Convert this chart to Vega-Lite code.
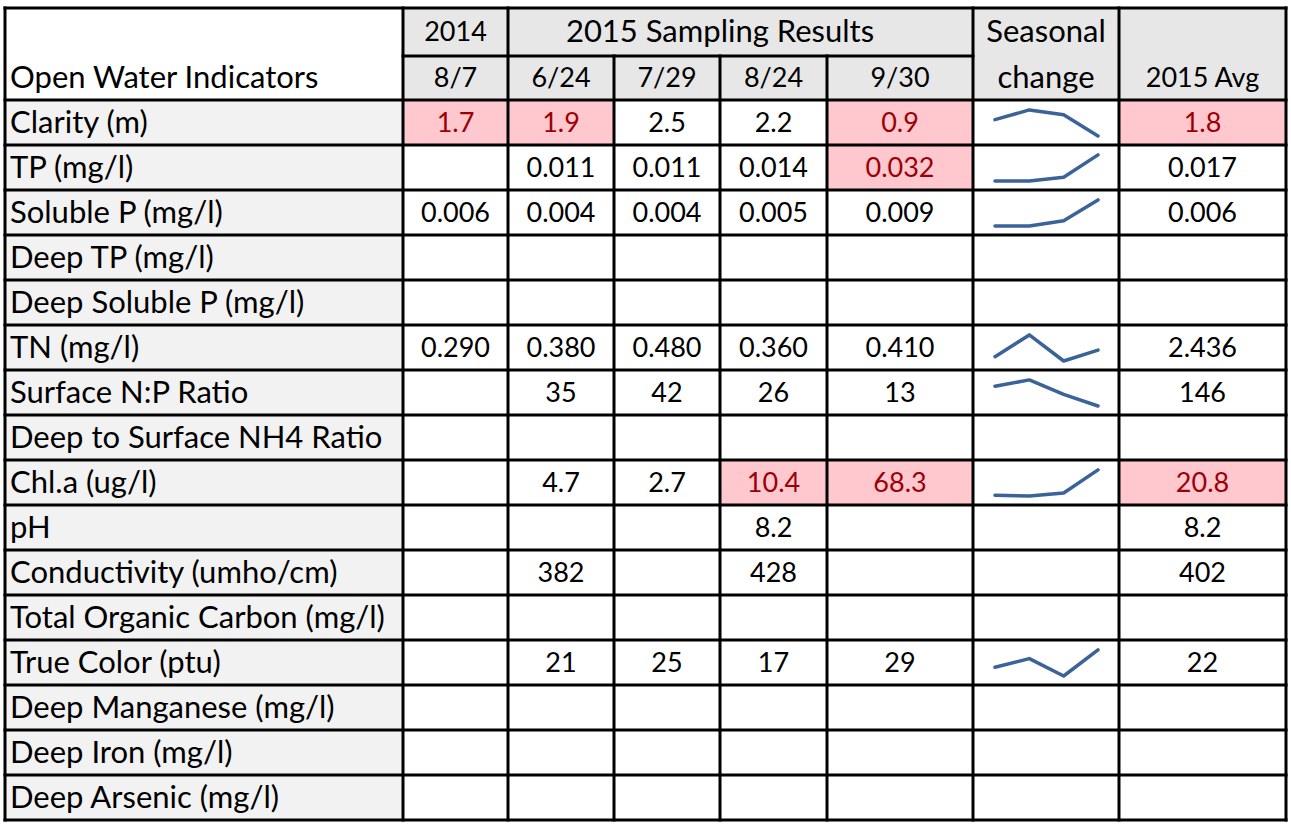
{
  "$schema": "https://vega.github.io/schema/vega-lite/v6.json",
  "width": 1281,
  "height": 812,
  "autosize": {"type": "none"},
  "padding": {"left": 5, "top": 8, "right": 5, "bottom": 5},
  "background": "white",
  "config": {"view": {"stroke": null}, "text": {"font": "Lato", "fontSize": 27, "color": "black", "baseline": "middle"}},
  "datasets": {
    "cols": [
      {"col": "label", "c0": 0, "c1": 1, "cm": 0.5, "top": 0},
      {"col": "2014", "c0": 1, "c1": 2, "cm": 1.5, "top": 0},
      {"col": "6/24", "c0": 2, "c1": 3, "cm": 2.5, "top": 1},
      {"col": "7/29", "c0": 3, "c1": 4, "cm": 3.5, "top": 1},
      {"col": "8/24", "c0": 4, "c1": 5, "cm": 4.5, "top": 1},
      {"col": "9/30", "c0": 5, "c1": 6, "cm": 5.5, "top": 0},
      {"col": "season", "c0": 6, "c1": 7, "cm": 6.5, "top": 0},
      {"col": "avg", "c0": 7, "c1": 8, "cm": 7.5, "top": 0}
    ],
    "rows": [
      {"ind": "Clarity (m)", "r0": 2, "r1": 3, "rm": 2.5},
      {"ind": "TP (mg/l)", "r0": 3, "r1": 4, "rm": 3.5},
      {"ind": "Soluble P (mg/l)", "r0": 4, "r1": 5, "rm": 4.5},
      {"ind": "Deep TP (mg/l)", "r0": 5, "r1": 6, "rm": 5.5},
      {"ind": "Deep Soluble P (mg/l)", "r0": 6, "r1": 7, "rm": 6.5},
      {"ind": "TN (mg/l)", "r0": 7, "r1": 8, "rm": 7.5},
      {"ind": "Surface N:P Ratio", "r0": 8, "r1": 9, "rm": 8.5},
      {"ind": "Deep to Surface NH4 Ratio", "r0": 9, "r1": 10, "rm": 9.5},
      {"ind": "Chl.a (ug/l)", "r0": 10, "r1": 11, "rm": 10.5},
      {"ind": "pH", "r0": 11, "r1": 12, "rm": 11.5},
      {"ind": "Conductivity (umho/cm)", "r0": 12, "r1": 13, "rm": 12.5},
      {"ind": "Total Organic Carbon (mg/l)", "r0": 13, "r1": 14, "rm": 13.5},
      {"ind": "True Color (ptu)", "r0": 14, "r1": 15, "rm": 14.5},
      {"ind": "Deep Manganese (mg/l)", "r0": 15, "r1": 16, "rm": 15.5},
      {"ind": "Deep Iron (mg/l)", "r0": 16, "r1": 17, "rm": 16.5},
      {"ind": "Deep Arsenic (mg/l)", "r0": 17, "r1": 18, "rm": 17.5}
    ],
    "headWords": [
      {"t": "2015 Sampling Results", "x": 4, "y": 0.5},
      {"t": "Seasonal", "x": 6.5, "y": 0.5},
      {"t": "change", "x": 6.5, "y": 1.5}
    ],
    "headNums": [
      {"t": "2014", "x": 1.5, "y": 0.5},
      {"t": "8/7", "x": 1.5, "y": 1.5},
      {"t": "6/24", "x": 2.5, "y": 1.5},
      {"t": "7/29", "x": 3.5, "y": 1.5},
      {"t": "8/24", "x": 4.5, "y": 1.5},
      {"t": "9/30", "x": 5.5, "y": 1.5},
      {"t": "2015 Avg", "x": 7.5, "y": 1.5}
    ],
    "cells": [
      {"ind": "Clarity (m)", "col": "2014", "v": "1.7", "hl": true},
      {"ind": "Clarity (m)", "col": "6/24", "v": "1.9", "hl": true},
      {"ind": "Clarity (m)", "col": "7/29", "v": "2.5", "hl": false},
      {"ind": "Clarity (m)", "col": "8/24", "v": "2.2", "hl": false},
      {"ind": "Clarity (m)", "col": "9/30", "v": "0.9", "hl": true},
      {"ind": "Clarity (m)", "col": "avg", "v": "1.8", "hl": true},
      {"ind": "TP (mg/l)", "col": "6/24", "v": "0.011", "hl": false},
      {"ind": "TP (mg/l)", "col": "7/29", "v": "0.011", "hl": false},
      {"ind": "TP (mg/l)", "col": "8/24", "v": "0.014", "hl": false},
      {"ind": "TP (mg/l)", "col": "9/30", "v": "0.032", "hl": true},
      {"ind": "TP (mg/l)", "col": "avg", "v": "0.017", "hl": false},
      {"ind": "Soluble P (mg/l)", "col": "2014", "v": "0.006", "hl": false},
      {"ind": "Soluble P (mg/l)", "col": "6/24", "v": "0.004", "hl": false},
      {"ind": "Soluble P (mg/l)", "col": "7/29", "v": "0.004", "hl": false},
      {"ind": "Soluble P (mg/l)", "col": "8/24", "v": "0.005", "hl": false},
      {"ind": "Soluble P (mg/l)", "col": "9/30", "v": "0.009", "hl": false},
      {"ind": "Soluble P (mg/l)", "col": "avg", "v": "0.006", "hl": false},
      {"ind": "TN (mg/l)", "col": "2014", "v": "0.290", "hl": false},
      {"ind": "TN (mg/l)", "col": "6/24", "v": "0.380", "hl": false},
      {"ind": "TN (mg/l)", "col": "7/29", "v": "0.480", "hl": false},
      {"ind": "TN (mg/l)", "col": "8/24", "v": "0.360", "hl": false},
      {"ind": "TN (mg/l)", "col": "9/30", "v": "0.410", "hl": false},
      {"ind": "TN (mg/l)", "col": "avg", "v": "2.436", "hl": false},
      {"ind": "Surface N:P Ratio", "col": "6/24", "v": "35", "hl": false},
      {"ind": "Surface N:P Ratio", "col": "7/29", "v": "42", "hl": false},
      {"ind": "Surface N:P Ratio", "col": "8/24", "v": "26", "hl": false},
      {"ind": "Surface N:P Ratio", "col": "9/30", "v": "13", "hl": false},
      {"ind": "Surface N:P Ratio", "col": "avg", "v": "146", "hl": false},
      {"ind": "Chl.a (ug/l)", "col": "6/24", "v": "4.7", "hl": false},
      {"ind": "Chl.a (ug/l)", "col": "7/29", "v": "2.7", "hl": false},
      {"ind": "Chl.a (ug/l)", "col": "8/24", "v": "10.4", "hl": true},
      {"ind": "Chl.a (ug/l)", "col": "9/30", "v": "68.3", "hl": true},
      {"ind": "Chl.a (ug/l)", "col": "avg", "v": "20.8", "hl": true},
      {"ind": "pH", "col": "8/24", "v": "8.2", "hl": false},
      {"ind": "pH", "col": "avg", "v": "8.2", "hl": false},
      {"ind": "Conductivity (umho/cm)", "col": "6/24", "v": "382", "hl": false},
      {"ind": "Conductivity (umho/cm)", "col": "8/24", "v": "428", "hl": false},
      {"ind": "Conductivity (umho/cm)", "col": "avg", "v": "402", "hl": false},
      {"ind": "True Color (ptu)", "col": "6/24", "v": "21", "hl": false},
      {"ind": "True Color (ptu)", "col": "7/29", "v": "25", "hl": false},
      {"ind": "True Color (ptu)", "col": "8/24", "v": "17", "hl": false},
      {"ind": "True Color (ptu)", "col": "9/30", "v": "29", "hl": false},
      {"ind": "True Color (ptu)", "col": "avg", "v": "22", "hl": false}
    ],
    "spark": [
      {"ind": "Clarity (m)", "d": "6/24", "v": 1.9},
      {"ind": "Clarity (m)", "d": "7/29", "v": 2.5},
      {"ind": "Clarity (m)", "d": "8/24", "v": 2.2},
      {"ind": "Clarity (m)", "d": "9/30", "v": 0.9},
      {"ind": "TP (mg/l)", "d": "6/24", "v": 0.011},
      {"ind": "TP (mg/l)", "d": "7/29", "v": 0.011},
      {"ind": "TP (mg/l)", "d": "8/24", "v": 0.014},
      {"ind": "TP (mg/l)", "d": "9/30", "v": 0.032},
      {"ind": "Soluble P (mg/l)", "d": "6/24", "v": 0.004},
      {"ind": "Soluble P (mg/l)", "d": "7/29", "v": 0.004},
      {"ind": "Soluble P (mg/l)", "d": "8/24", "v": 0.005},
      {"ind": "Soluble P (mg/l)", "d": "9/30", "v": 0.009},
      {"ind": "TN (mg/l)", "d": "6/24", "v": 0.38},
      {"ind": "TN (mg/l)", "d": "7/29", "v": 0.48},
      {"ind": "TN (mg/l)", "d": "8/24", "v": 0.36},
      {"ind": "TN (mg/l)", "d": "9/30", "v": 0.41},
      {"ind": "Surface N:P Ratio", "d": "6/24", "v": 35},
      {"ind": "Surface N:P Ratio", "d": "7/29", "v": 42},
      {"ind": "Surface N:P Ratio", "d": "8/24", "v": 26},
      {"ind": "Surface N:P Ratio", "d": "9/30", "v": 13},
      {"ind": "Chl.a (ug/l)", "d": "6/24", "v": 4.7},
      {"ind": "Chl.a (ug/l)", "d": "7/29", "v": 2.7},
      {"ind": "Chl.a (ug/l)", "d": "8/24", "v": 10.4},
      {"ind": "Chl.a (ug/l)", "d": "9/30", "v": 68.3},
      {"ind": "True Color (ptu)", "d": "6/24", "v": 21},
      {"ind": "True Color (ptu)", "d": "7/29", "v": 25},
      {"ind": "True Color (ptu)", "d": "8/24", "v": 17},
      {"ind": "True Color (ptu)", "d": "9/30", "v": 29}
    ]
  },
  "resolve": {"scale": {"x": "independent"}},
  "layer": [
    {
      "data": {"values": [{"part": "labels", "a": 0, "b": 1, "t": 2, "u": 18, "f": "#f2f2f2"}, {"part": "header", "a": 1, "b": 8, "t": 0, "u": 2, "f": "#e7e7e7"}]},
      "mark": {"type": "rect"},
      "encoding": {
        "x": {"field": "a", "type": "quantitative", "axis": null, "scale": {"domain": [0, 1, 2, 3, 4, 5, 6, 7, 8], "range": [0, 398, 503, 609, 715, 822, 968, 1114, 1281], "nice": false, "zero": false}},
        "x2": {"field": "b"},
        "y": {"field": "t", "type": "quantitative", "axis": null, "scale": {"domain": [0, 1, 2, 18], "range": [0, 48, 92, 812], "nice": false, "zero": false}},
        "y2": {"field": "u"},
        "color": {"field": "f", "type": "nominal", "scale": null, "legend": null}
      }
    },
    {
      "data": {"name": "cells"},
      "transform": [
        {"filter": "datum.hl"},
        {"lookup": "ind", "from": {"data": {"name": "rows"}, "key": "ind", "fields": ["r0", "r1"]}},
        {"lookup": "col", "from": {"data": {"name": "cols"}, "key": "col", "fields": ["c0", "c1"]}}
      ],
      "mark": {"type": "rect", "color": "#ffc7ce"},
      "encoding": {
        "x": {"field": "c0", "type": "quantitative", "axis": null, "scale": {"domain": [0, 1, 2, 3, 4, 5, 6, 7, 8], "range": [0, 398, 503, 609, 715, 822, 968, 1114, 1281], "nice": false, "zero": false}},
        "x2": {"field": "c1"},
        "y": {"field": "r0", "type": "quantitative", "axis": null, "scale": {"domain": [0, 1, 2, 18], "range": [0, 48, 92, 812], "nice": false, "zero": false}},
        "y2": {"field": "r1"}
      }
    },
    {
      "data": {"name": "spark"},
      "transform": [
        {"lookup": "ind", "from": {"data": {"name": "rows"}, "key": "ind", "fields": ["r0"]}},
        {"joinaggregate": [{"op": "min", "field": "v", "as": "lo"}, {"op": "max", "field": "v", "as": "hi"}], "groupby": ["ind"]},
        {"calculate": "datum.r0 + 0.8 - 0.58 * (datum.v - datum.lo) / (datum.hi - datum.lo)", "as": "sy"}
      ],
      "mark": {"type": "line", "color": "#3b6299", "strokeWidth": 3.5, "strokeCap": "round", "strokeJoin": "round"},
      "encoding": {
        "x": {"field": "d", "type": "ordinal", "axis": null, "scale": {"type": "point", "domain": ["6/24", "7/29", "8/24", "9/30"], "range": [990, 1093], "padding": 0}},
        "y": {"field": "sy", "type": "quantitative", "axis": null, "scale": {"domain": [0, 1, 2, 18], "range": [0, 48, 92, 812], "nice": false, "zero": false}},
        "detail": {"field": "ind", "type": "nominal"}
      }
    },
    {
      "data": {"name": "rows"},
      "mark": {"type": "text", "align": "left", "dx": 5, "dy": 1, "fontSize": 31},
      "encoding": {
        "x": {"datum": 0, "type": "quantitative", "axis": null, "scale": {"domain": [0, 1, 2, 3, 4, 5, 6, 7, 8], "range": [0, 398, 503, 609, 715, 822, 968, 1114, 1281], "nice": false, "zero": false}},
        "y": {"field": "rm", "type": "quantitative", "axis": null, "scale": {"domain": [0, 1, 2, 18], "range": [0, 48, 92, 812], "nice": false, "zero": false}},
        "text": {"field": "ind", "type": "nominal"}
      }
    },
    {
      "data": {"values": [{"t": "Open Water Indicators"}]},
      "mark": {"type": "text", "align": "left", "dx": 5, "dy": 1, "fontSize": 31},
      "encoding": {
        "x": {"datum": 0, "type": "quantitative", "axis": null, "scale": {"domain": [0, 1, 2, 3, 4, 5, 6, 7, 8], "range": [0, 398, 503, 609, 715, 822, 968, 1114, 1281], "nice": false, "zero": false}},
        "y": {"datum": 1.5, "type": "quantitative", "axis": null, "scale": {"domain": [0, 1, 2, 18], "range": [0, 48, 92, 812], "nice": false, "zero": false}},
        "text": {"field": "t", "type": "nominal"}
      }
    },
    {
      "data": {"name": "headWords"},
      "mark": {"type": "text", "align": "center", "dy": 1, "fontSize": 31},
      "encoding": {
        "x": {"field": "x", "type": "quantitative", "axis": null, "scale": {"domain": [0, 1, 2, 3, 4, 5, 6, 7, 8], "range": [0, 398, 503, 609, 715, 822, 968, 1114, 1281], "nice": false, "zero": false}},
        "y": {"field": "y", "type": "quantitative", "axis": null, "scale": {"domain": [0, 1, 2, 18], "range": [0, 48, 92, 812], "nice": false, "zero": false}},
        "text": {"field": "t", "type": "nominal"}
      }
    },
    {
      "data": {"name": "headNums"},
      "mark": {"type": "text", "align": "center", "dy": 1},
      "encoding": {
        "x": {"field": "x", "type": "quantitative", "axis": null, "scale": {"domain": [0, 1, 2, 3, 4, 5, 6, 7, 8], "range": [0, 398, 503, 609, 715, 822, 968, 1114, 1281], "nice": false, "zero": false}},
        "y": {"field": "y", "type": "quantitative", "axis": null, "scale": {"domain": [0, 1, 2, 18], "range": [0, 48, 92, 812], "nice": false, "zero": false}},
        "text": {"field": "t", "type": "nominal"}
      }
    },
    {
      "data": {"name": "cells"},
      "transform": [
        {"lookup": "ind", "from": {"data": {"name": "rows"}, "key": "ind", "fields": ["rm"]}},
        {"lookup": "col", "from": {"data": {"name": "cols"}, "key": "col", "fields": ["cm"]}}
      ],
      "mark": {"type": "text", "align": "center", "dy": 1},
      "encoding": {
        "x": {"field": "cm", "type": "quantitative", "axis": null, "scale": {"domain": [0, 1, 2, 3, 4, 5, 6, 7, 8], "range": [0, 398, 503, 609, 715, 822, 968, 1114, 1281], "nice": false, "zero": false}},
        "y": {"field": "rm", "type": "quantitative", "axis": null, "scale": {"domain": [0, 1, 2, 18], "range": [0, 48, 92, 812], "nice": false, "zero": false}},
        "text": {"field": "v", "type": "nominal"},
        "color": {"condition": {"test": "datum.hl", "value": "#9c0006"}, "value": "black"}
      }
    },
    {
      "data": {"name": "rows"},
      "mark": {"type": "rule", "color": "black", "strokeWidth": 3, "strokeCap": "square"},
      "encoding": {
        "x": {"datum": 0, "type": "quantitative", "axis": null, "scale": {"domain": [0, 1, 2, 3, 4, 5, 6, 7, 8], "range": [0, 398, 503, 609, 715, 822, 968, 1114, 1281], "nice": false, "zero": false}},
        "x2": {"datum": 8},
        "y": {"field": "r1", "type": "quantitative", "axis": null, "scale": {"domain": [0, 1, 2, 18], "range": [0, 48, 92, 812], "nice": false, "zero": false}}
      }
    },
    {
      "data": {"values": [{"y": 0, "a": 0, "b": 8}, {"y": 1, "a": 1, "b": 6}, {"y": 2, "a": 0, "b": 8}]},
      "mark": {"type": "rule", "color": "black", "strokeWidth": 3, "strokeCap": "square"},
      "encoding": {
        "x": {"field": "a", "type": "quantitative", "axis": null, "scale": {"domain": [0, 1, 2, 3, 4, 5, 6, 7, 8], "range": [0, 398, 503, 609, 715, 822, 968, 1114, 1281], "nice": false, "zero": false}},
        "x2": {"field": "b"},
        "y": {"field": "y", "type": "quantitative", "axis": null, "scale": {"domain": [0, 1, 2, 18], "range": [0, 48, 92, 812], "nice": false, "zero": false}}
      }
    },
    {
      "data": {"name": "cols"},
      "mark": {"type": "rule", "color": "black", "strokeWidth": 3, "strokeCap": "square"},
      "encoding": {
        "x": {"field": "c1", "type": "quantitative", "axis": null, "scale": {"domain": [0, 1, 2, 3, 4, 5, 6, 7, 8], "range": [0, 398, 503, 609, 715, 822, 968, 1114, 1281], "nice": false, "zero": false}},
        "y": {"field": "top", "type": "quantitative", "axis": null, "scale": {"domain": [0, 1, 2, 18], "range": [0, 48, 92, 812], "nice": false, "zero": false}},
        "y2": {"datum": 18}
      }
    },
    {
      "data": {"values": [{"x": 0}]},
      "mark": {"type": "rule", "color": "black", "strokeWidth": 3, "strokeCap": "square"},
      "encoding": {
        "x": {"field": "x", "type": "quantitative", "axis": null, "scale": {"domain": [0, 1, 2, 3, 4, 5, 6, 7, 8], "range": [0, 398, 503, 609, 715, 822, 968, 1114, 1281], "nice": false, "zero": false}},
        "y": {"datum": 0, "type": "quantitative", "axis": null, "scale": {"domain": [0, 1, 2, 18], "range": [0, 48, 92, 812], "nice": false, "zero": false}},
        "y2": {"datum": 18}
      }
    }
  ]
}
